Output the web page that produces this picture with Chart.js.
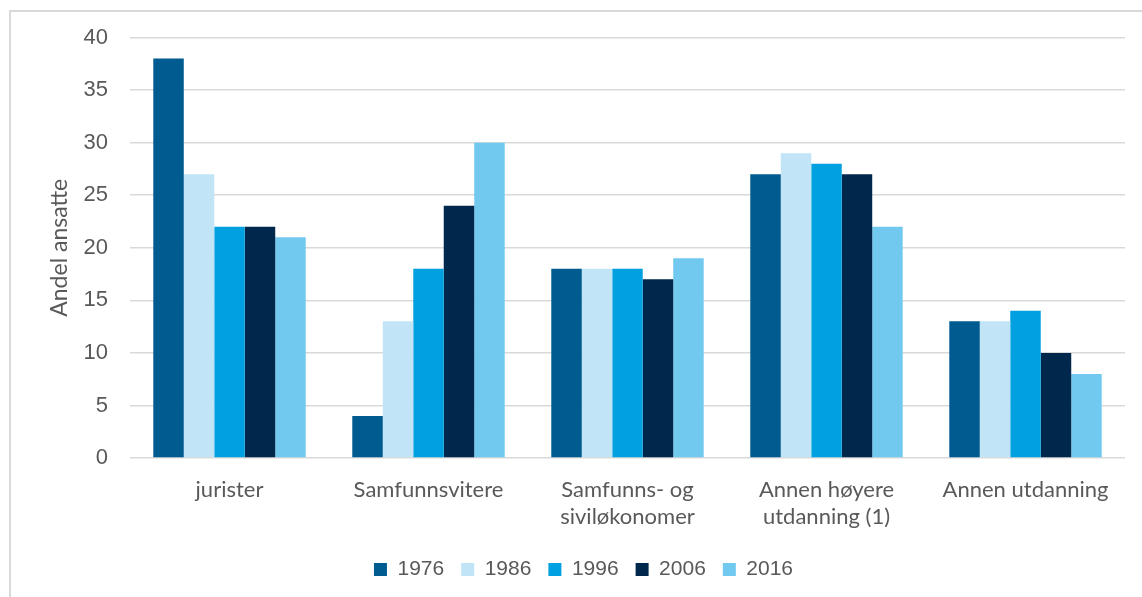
<!DOCTYPE html>
<html>
<head>
<meta charset="utf-8">
<script src="https://cdn.jsdelivr.net/npm/chart.js@4.4.1/dist/chart.umd.min.js"></script>
<style>
  html, body { margin: 0; padding: 0; background: #ffffff; }
  #wrap { position: relative; width: 1142px; height: 597px; }
</style>
</head>
<body>
<div id="wrap"><canvas id="chart"></canvas></div>
<script>
// Utdanningsgrupper (kategorier på x-aksen)
const categories = [
  'jurister',
  'Samfunnsvitere',
  ['Samfunns- og', 'siviløkonomer'],
  ['Annen høyere', 'utdanning (1)'],
  'Annen utdanning'
];

// Andel ansatte per år (prosent)
const years = ['1976', '1986', '1996', '2006', '2016'];
const values1976 = [38, 4, 18, 27, 13];
const values1986 = [27, 13, 18, 29, 13];
const values1996 = [22, 18, 18, 28, 14];
const values2006 = [22, 24, 17, 27, 10];
const values2016 = [21, 30, 19, 22, 8];

const yTicks = [0, 5, 10, 15, 20, 25, 30, 35, 40];
const yTitle = 'Andel ansatte';

const seriesValues = [values1976, values1986, values1996, values2006, values2016];
const seriesColors = ['#005B91', '#C1E5F7', '#00A0E1', '#00284D', '#72C9F0'];

// Tynn grå ramme rundt hele figuren
const framePlugin = {
  id: 'frame',
  beforeDraw(chart) {
    const ctx = chart.ctx;
    ctx.save();
    ctx.fillStyle = '#ffffff';
    ctx.fillRect(0, 0, chart.width, chart.height);
    ctx.strokeStyle = '#d9d9d9';
    ctx.lineWidth = 2;
    ctx.strokeRect(10, 11, chart.width + 20, chart.height + 20);
    ctx.restore();
  }
};

const labelFont = { family: 'Lato', size: 22, lineHeight: 1.23 };

new Chart(document.getElementById('chart'), {
  type: 'bar',
  data: {
    labels: categories,
    datasets: years.map((y, i) => ({
      label: y,
      data: seriesValues[i],
      backgroundColor: seriesColors[i],
      borderWidth: 0,
      categoryPercentage: 0.766,
      barPercentage: 1.0
    }))
  },
  options: {
    responsive: true,
    maintainAspectRatio: false,
    animation: false,
    devicePixelRatio: 1,
    layout: { padding: { left: 42, right: 17, top: 37.5, bottom: 7 } },
    plugins: {
      tooltip: { enabled: false },
      legend: {
        position: 'bottom',
        labels: {
          boxWidth: 13,
          boxHeight: 13,
          padding: 17,
          color: '#595959',
          font: { family: 'Liberation Sans', size: 21 }
        }
      }
    },
    scales: {
      x: {
        grid: { display: false, drawTicks: false },
        border: { display: false },
        ticks: {
          color: '#595959',
          font: labelFont,
          padding: 18.5,
          maxRotation: 0,
          autoSkip: false
        },
        afterFit(scale) { scale.height = 84; }
      },
      y: {
        min: 0,
        max: 40,
        afterBuildTicks(scale) { scale.ticks = yTicks.map(v => ({ value: v })); },
        grid: { color: '#d9d9d9', lineWidth: 1.5, drawTicks: false },
        border: { display: false },
        ticks: {
          color: '#595959',
          font: { family: 'Liberation Sans', size: 22 },
          padding: 22
        },
        title: {
          display: true,
          text: yTitle,
          color: '#595959',
          font: { family: 'Lato', size: 23 },
          padding: { top: 4, bottom: 0 }
        },
        afterFit(scale) { scale.width = 88; }
      }
    }
  },
  plugins: [framePlugin]
});
</script>
</body>
</html>
